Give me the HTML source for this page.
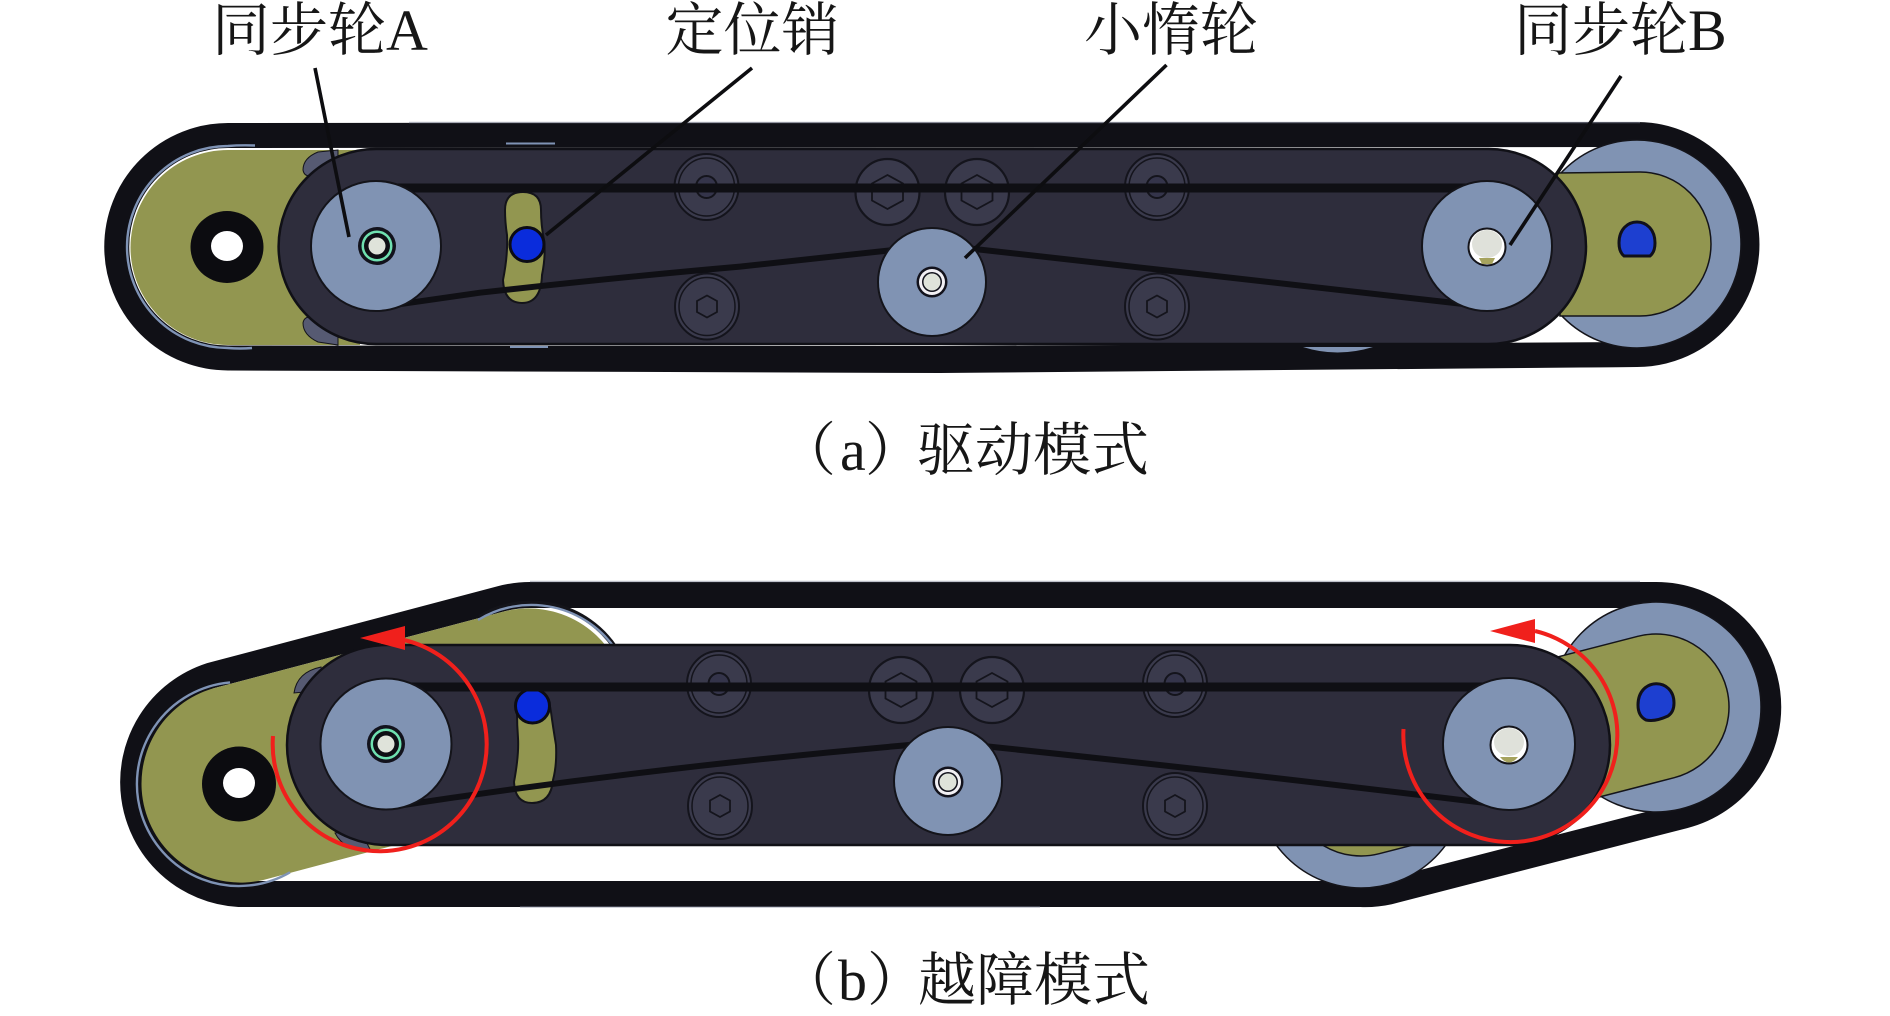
<!DOCTYPE html>
<html><head><meta charset="utf-8"><style>
html,body{margin:0;padding:0;background:#fff;width:1890px;height:1016px;overflow:hidden}
svg{display:block}
text{font-family:"Liberation Serif","Noto Serif CJK SC",serif;fill:#161616}
</style></head><body>
<svg width="1890" height="1016" viewBox="0 0 1890 1016" xmlns="http://www.w3.org/2000/svg">
<defs>
<g id="sA"><ellipse rx="32" ry="33" fill="#3a3a4c" stroke="#14141c" stroke-width="2"/><ellipse rx="28" ry="29" fill="none" stroke="#14141c" stroke-width="1.5"/><ellipse rx="10.5" ry="11" fill="#34344a" stroke="#14141c" stroke-width="2"/></g>
<g id="sB"><ellipse rx="32" ry="33" fill="#3a3a4c" stroke="#14141c" stroke-width="2.2"/><polygon points="0,-17 15.5,-8.5 15.5,8.5 0,17 -15.5,8.5 -15.5,-8.5" fill="#3a3a4c" stroke="#14141c" stroke-width="1.8"/></g>
<g id="sC"><ellipse rx="32" ry="33" fill="#3a3a4c" stroke="#14141c" stroke-width="2"/><ellipse rx="28" ry="29" fill="none" stroke="#14141c" stroke-width="1.5"/><polygon points="0,-11 10,-5.5 10,5.5 0,11 -10,5.5 -10,-5.5" fill="#3a3a4c" stroke="#14141c" stroke-width="1.8"/></g>
<g id="bA"><circle r="19" fill="#12121c"/><circle r="15.5" fill="#6fe0b0"/><circle r="13" fill="#0e0e14"/><circle r="8.5" fill="#dfe3da"/></g>
<g id="bI"><circle r="15.5" fill="#12121c"/><circle r="13" fill="#f2f0f4"/><circle r="10" fill="#12121c"/><circle r="8.5" fill="#dfe3da"/></g>
</defs>

<!-- Panel A -->
<path d="M228,135.5 L1637,134.5 A110,110 0 0 1 1637,354.5 L940,358.5 L228,358 A111.2,111.2 0 0 1 228,135.5Z" fill="none" stroke="#101016" stroke-width="25" stroke-linejoin="round"/>
<polygon points="228,370.5 940,373 1637,367 1637,355 228,355" fill="#101016"/>
<path d="M409,122.5 H1640" stroke="#8a8ea0" stroke-width="1.5" opacity=".55"/>
<path d="M228,150 A97.5,97.5 0 0 0 228,345 L360,345 L360,150Z" fill="#929650"/>
<path d="M255,145.5 Q240,145 228,146 A101,101 0 0 0 228,348 Q240,349 252,348" fill="none" stroke="#7f93b5" stroke-width="2.4"/>
<path d="M338,150 L318,152 Q303,158 303,170 Q304,176 310,176 L338,176Z" fill="#565a72" stroke="#14141a"/>
<path d="M338,345 L318,342 Q303,335 303,323 Q304,317 310,317 L338,317Z" fill="#565a72" stroke="#14141a"/>
<circle cx="1637" cy="244" r="104" fill="#8093b3" stroke="#14141a" stroke-width="1.5"/>
<path d="M1557,173 L1640,172 A71,72 0 0 1 1640,316 L1560,316Z" fill="#929650" stroke="#14141a" stroke-width="1.5"/>
<path d="M1619,243 C1619,215 1655,215 1655,243 Q1655,252 1650,256 L1624,256 Q1619,252 1619,243Z" fill="#1d3fd0" stroke="#10101a" stroke-width="3"/>
<ellipse cx="227" cy="247" rx="36.5" ry="36" fill="#0c0c10"/><ellipse cx="227" cy="246" rx="16" ry="15" fill="#fff"/>
<path d="M1303,347 Q1337,358 1373,347Z" fill="#8093b3"/>
<rect x="278.6" y="149" width="1307.4" height="195" rx="97.5" fill="#2e2d3c" stroke="#101016" stroke-width="2.5"/>
<use href="#sA" x="706.5" y="187"/><use href="#sB" x="887.5" y="192"/><use href="#sB" x="977" y="192"/><use href="#sA" x="1157" y="187"/>
<use href="#sC" x="707" y="306.5"/><use href="#sC" x="1157" y="306.5"/>
<path d="M505,210 Q505,192 523,192 Q541,192 541,210 Q541,225 544,240 Q546,255 542,275 Q541,303 522,303 Q504,303 503,280 Q508,255 507,235 Q505,222 505,210Z" fill="#929650" stroke="#14141a" stroke-width="2"/>
<circle cx="527" cy="244.5" r="17" fill="#0a2cdc" stroke="#0c0c14" stroke-width="3"/>
<path d="M506,143.5 H555" stroke="#7f93b5" stroke-width="2"/><path d="M510,347 H548" stroke="#7f93b5" stroke-width="2"/>
<path d="M380,188 L1480,188" stroke="#0f0f14" stroke-width="9"/>
<path d="M380,307 L480,292.7 Q620,277 740,266.6 L930,246" fill="none" stroke="#0f0f14" stroke-width="6"/>
<path d="M930,244 L1180,272 L1490,307" fill="none" stroke="#0f0f14" stroke-width="6"/>
<circle cx="376" cy="246" r="65" fill="#8093b3" stroke="#14141a" stroke-width="2"/>
<circle cx="1487" cy="246" r="65" fill="#8093b3" stroke="#14141a" stroke-width="2"/>
<circle cx="932" cy="282" r="54" fill="#8093b3" stroke="#14141a" stroke-width="2"/>
<use href="#bA" x="377" y="246"/><use href="#bI" x="932" y="282"/>
<circle cx="1487" cy="247" r="18.5" fill="#fff" stroke="#14141a" stroke-width="2"/><ellipse cx="1487" cy="244" rx="15" ry="14" fill="#dfe1da"/><path d="M1479,258 L1495,258 L1492,264 L1482,264Z" fill="#a6a35e"/>
<g stroke="#0d0d10" stroke-width="3.6" fill="none">
<path d="M315,68 L349,237"/><path d="M752,68 L546,235"/><path d="M1166.5,65 L965,258"/><path d="M1621,76 L1510,245"/>
</g>

<!-- Panel B -->
<path d="M530,595 L1656,595 A112,112 0 0 1 1684,815.5 L1389,891.5 A112,112 0 0 1 1361,894 L239,894 A112,112 0 0 1 210.4,675.7 L501.4,598.7 A112,112 0 0 1 530,595Z" fill="none" stroke="#101016" stroke-width="26" stroke-linejoin="round"/>
<path d="M530,581.5 H1640 M520,907 H1040" stroke="#8a8ea0" stroke-width="1.5" opacity=".55"/>
<path d="M480,617 A101,101 0 0 1 615,647.5" fill="none" stroke="#14141a" stroke-width="5"/>
<path d="M213.7,688.3 L504.7,611.3 A99,99 0 0 1 555.3,802.7 L264.3,879.7 A99,99 0 0 1 213.7,688.3Z" fill="#929650"/>
<path d="M230,682.4 A102,102 0 1 0 290,872.3" fill="none" stroke="#7f93b5" stroke-width="2.4"/>
<path d="M478,620 A102,102 0 0 1 616,650" fill="none" stroke="#7f93b5" stroke-width="2.4"/>
<path d="M294,693 Q297,672 321,667 L325,690Z" fill="#565a72" stroke="#14141a"/>
<path d="M335,833 Q345,852 371,851 L360,830Z" fill="#565a72" stroke="#14141a"/>
<circle cx="1656" cy="707" r="105" fill="#8093b3" stroke="#14141a" stroke-width="1.5"/>
<circle cx="1361" cy="783" r="105" fill="#8093b3" stroke="#14141a" stroke-width="1.5"/>
<path d="M1342.8,712.3 L1637.8,636.3 A73,73 0 0 1 1674.2,777.7 L1379.2,853.7 A73,73 0 0 1 1342.8,712.3Z" fill="#929650" stroke="#14141a" stroke-width="1.5"/>
<path d="M1638,705 C1638,677 1674,677 1674,703 Q1674,712 1668,716 Q1655,722 1646,720 Q1638,716 1638,705Z" fill="#1d3fd0" stroke="#10101a" stroke-width="3"/>
<ellipse cx="239" cy="784" rx="37" ry="37.5" fill="#0c0c10"/><ellipse cx="239" cy="783" rx="16" ry="15" fill="#fff"/>
<rect x="287" y="645" width="1323" height="200" rx="100" fill="#2e2d3c" stroke="#101016" stroke-width="2.5"/>
<use href="#sA" x="719" y="684"/><use href="#sB" x="901" y="690"/><use href="#sB" x="992" y="690"/><use href="#sA" x="1175" y="684"/>
<use href="#sC" x="720" y="806"/><use href="#sC" x="1175" y="806"/>
<path d="M517,712 Q517,694 533,693 Q549,694 551,712 Q553,727 556,745 Q557,765 553,780 Q551,803 532,803 Q515,803 514,782 Q519,755 518,738 Q517,725 517,712Z" fill="#929650" stroke="#14141a" stroke-width="2"/>
<circle cx="532.5" cy="706" r="17" fill="#0a2cdc" stroke="#0c0c14" stroke-width="3"/>
<path d="M390,687 L1500,687" stroke="#0f0f14" stroke-width="9"/>
<path d="M390,807 Q665,765 945,742" fill="none" stroke="#0f0f14" stroke-width="6"/>
<path d="M945,742 Q1235,772 1510,806" fill="none" stroke="#0f0f14" stroke-width="6"/>
<circle cx="386" cy="744" r="65.5" fill="#8093b3" stroke="#14141a" stroke-width="2"/>
<circle cx="1509" cy="744" r="66" fill="#8093b3" stroke="#14141a" stroke-width="2"/>
<circle cx="948" cy="781" r="54" fill="#8093b3" stroke="#14141a" stroke-width="2"/>
<use href="#bA" x="386" y="744"/><use href="#bI" x="948" y="782"/>
<circle cx="1509" cy="745" r="18.5" fill="#fff" stroke="#14141a" stroke-width="2"/><ellipse cx="1509" cy="742" rx="15" ry="14" fill="#dfe1da"/><path d="M1500,757 Q1509,768 1518,757Z" fill="#a6a35e"/>
<g fill="none" stroke="#f0201c" stroke-width="4">
<path d="M273,736 A107,107 0 1 0 404,640"/>
<path d="M1403.5,729 A107,107 0 1 0 1535,631"/>
</g>
<polygon points="360,638 405,626 405,650" fill="#f0201c"/>
<polygon points="1490,631 1535,619 1535,643" fill="#f0201c"/>

<!-- Labels -->
<g font-size="58">
<text x="212" y="50">同步轮A</text>
<text x="665.5" y="50">定位销</text>
<text x="1084" y="50">小惰轮</text>
<text x="1514" y="50">同步轮B</text>
<text x="778" y="470">（</text><text x="840" y="470">a</text><text x="865" y="470">）</text><text x="917" y="470">驱动模式</text>
<text x="778" y="1000">（</text><text x="838" y="1000">b</text><text x="867" y="1000">）</text><text x="918" y="1000">越障模式</text>
</g>
</svg>
</body></html>
